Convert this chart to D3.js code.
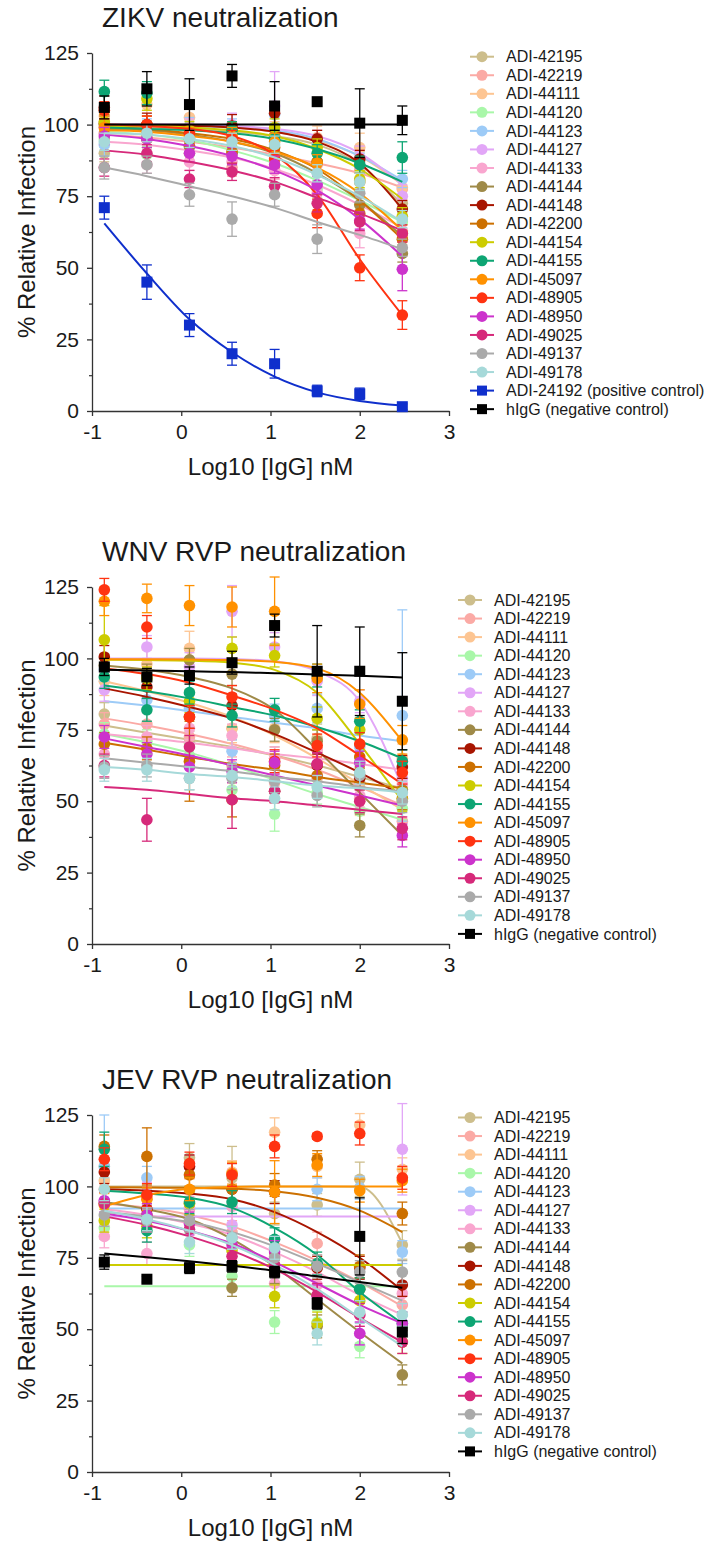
<!DOCTYPE html>
<html>
<head>
<meta charset="utf-8">
<script src="https://cdn.jsdelivr.net/npm/d3@7"></script>
<style>
  body { margin: 0; background: #fff; }
  text { font-family: "Liberation Sans", Arial, sans-serif; fill: #1a1a1a; }
</style>
</head>
<body>
<div id="chart"></div>
<script>
// x positions: log10 of the IgG concentration (3-fold dilutions from 300 nM)
const concLog = [-0.862, -0.385, 0.092, 0.569, 1.046, 1.523, 2.0, 2.477];

const abNames = ["ADI-42195", "ADI-42219", "ADI-44111", "ADI-44120", "ADI-44123", "ADI-44127",
  "ADI-44133", "ADI-44144", "ADI-44148", "ADI-42200", "ADI-44154", "ADI-44155", "ADI-45097",
  "ADI-48905", "ADI-48950", "ADI-49025", "ADI-49137", "ADI-49178"];
const abColors = ["#cdbe8c", "#fbaaa5", "#fdc592", "#a9f7a9", "#9dcbf7", "#e2a6f7",
  "#f9a6cf", "#9f8a48", "#a81500", "#cc7000", "#cccc00", "#0da573", "#ff9100",
  "#ff3311", "#cc33cc", "#d6297a", "#aaaaaa", "#a6d9d9"];
const posName = "ADI-24192 (positive control)";
const posColor = "#0f2fcc";
const negName = "hIgG (negative control)";
const negColor = "#000000";

// ---- ZIKV: 18 antibodies, then positive control, then hIgG
const zikvPoints = [
  [90, 95, 90, 96.5, 96, 93, 87.5, 72.5],
  [97, 96, 95, 85, 84, 86, 84, 77.5],
  [103, 107, 102.5, 96, 96, 95.5, 92, 78],
  [95, 89.5, 92, 92, 89.5, 77.5, 80.5, 66],
  [93, 99, 99.5, 99, 103.5, 93, 86, 81],
  [99, 98, 99, 100, 106.5, 95, 88.5, 75],
  [97, 86, 87, 87, 84, 76, 62, 63],
  [100, 95, 92.5, 90, 96, 87, 72, 55],
  [106, 100, 97, 99.5, 104, 95, 88, 70.5],
  [100.5, 100, 92.5, 90.5, 92, 87, 69, 60],
  [101, 109, 98, 98, 99, 92, 81, 68],
  [111.5, 111, 95, 98, 95, 90, 86, 88.5],
  [99, 97, 96, 96, 94, 86.5, 80, 62],
  [105, 100, 97, 95, 88, 69, 50, 33.5],
  [96, 95, 90, 89, 86, 79, 66.5, 49.5],
  [85, 90, 81, 83.5, 78.5, 72.5, 66, 62],
  [85, 86, 75.5, 67, 75.5, 60, 76, 57],
  [94, 97, 95, 94, 93, 83, 80, 67],
  [71, 45, 30, 20, 16.5, 7, 6, 1.5],
  [106, 112.5, 107, 117, 106.5, 108, 100.5, 101.5]
];
const zikvFit = [
  [99.5, 99, 98.5, 97.5, 96, 93, 86, 72],
  [96.5, 95.5, 94, 92, 89.5, 86.5, 83, 78],
  [100, 100, 99.5, 99, 97.5, 94.5, 89, 79],
  [97.5, 96.5, 94.5, 91, 86.5, 80.5, 73.5, 66],
  [100, 100, 99.5, 99, 98, 95, 89, 80.5],
  [100, 100, 100, 99.5, 98.5, 96, 90, 79],
  [94, 93, 91, 88.5, 84.5, 79, 72, 64],
  [98.5, 98, 96.5, 94, 90, 83, 73.5, 61],
  [99.5, 99.5, 99.5, 99, 97.5, 94, 86.5, 70.5],
  [99, 98.5, 97, 95, 91, 84.5, 73.5, 60],
  [99.5, 99.5, 99, 98, 96, 91.5, 84.5, 74],
  [99, 98.5, 98, 97, 95, 91.5, 86.5, 80],
  [98, 97.5, 96, 94, 90.5, 85, 76, 63],
  [100, 99.5, 98.5, 96, 89.5, 75.5, 53, 33.5],
  [96.5, 95, 92.5, 89, 84, 77, 67, 54],
  [91, 89.5, 87, 84, 80, 74.5, 69, 63],
  [85, 82, 78.5, 75, 71, 66, 61.5, 56.5],
  [97, 96.5, 95, 92.5, 88.5, 82.5, 75, 66],
  [65.5, 48, 32, 20.5, 12, 6.5, 3.5, 1.9],
  [100, 100, 100, 100, 100, 100, 100, 100]
];
const zikvErr = [
  [3, 3, 3, 4, 4, 3, 3, 3],
  [4, 4, 3, 3, 3, 4, 4, 4],
  [4, 4, 3, 5, 5, 4, 5, 4],
  [3, 3, 3, 3, 3, 3, 3, 3],
  [4, 3, 3, 3, 3, 3, 4, 3],
  [4, 3, 3, 4, 12, 3, 4, 4],
  [4, 3, 3, 3, 3, 3, 5, 4],
  [3, 3, 3, 4, 3, 3, 3, 3],
  [4, 4, 3, 4, 4, 3, 3, 3],
  [3, 3, 3, 4, 3, 3, 3, 3],
  [3, 4, 3, 3, 3, 3, 3, 3],
  [4, 4, 3, 3, 3, 3, 3, 5.5],
  [4, 3, 3, 3, 3, 3, 3, 3],
  [3, 3, 3, 3, 3, 5, 4.5, 5],
  [3, 3, 3, 3, 3, 3, 3, 7.5],
  [3, 3, 3, 3, 3, 3, 3, 3],
  [4, 3, 4, 6, 4, 5, 3, 3],
  [3, 3, 3, 3, 3, 3, 3, 3],
  [4, 6, 4, 4, 5, 2, 2, 1],
  [4, 6, 9, 4, 8.5, 0, 12, 5]
];

// ---- WNV RVP: 18 antibodies, then hIgG
const wnvPoints = [
  [80.5, 93, 70.5, 75.5, 65, 72, 56.5, 54],
  [77, 77, 72.5, 62.5, 56.5, 58, 51, 43],
  [92, 98, 103.5, 75.5, 75.5, 68, 50, 65],
  [73.5, 71, 66, 54, 45.5, 53, 46.5, 47.5],
  [96, 85.5, 82.5, 67.5, 80, 82.5, 69, 80],
  [89, 104, 97, 116.5, 104, 92, 85, 58],
  [66.5, 72.5, 75.5, 73, 65, 68, 52, 56],
  [97.5, 94, 99.5, 94.5, 75, 71, 41.5, 54],
  [100.5, 90, 79.5, 83.5, 53.5, 62.5, 58, 62],
  [70, 68.5, 64, 50.5, 62.5, 59, 65.5, 51],
  [106.5, 93, 85, 103.5, 101, 79, 75, 50.5],
  [93.5, 82, 88, 80, 82, 94, 78, 64],
  [120, 121, 118.5, 118, 116.5, 93, 84, 71.5],
  [124, 111, 79.5, 86.5, 64, 69.5, 70, 60],
  [72.5, 66.5, 62, 60.5, 63.5, 63, 63.5, 38],
  [62.5, 43.5, 69, 50.5, 53.5, 63, 50, 40.5],
  [62, 62.5, 58, 58, 57, 52, 59, 50],
  [61, 61, 58, 59, 51, 55, 60, 53],
  [97, 93.5, 94, 98.5, 111.5, 95.5, 95.5, 85]
];
const wnvFit = [
  [76.5, 74, 71.5, 69, 66, 62.5, 58.5, 54.5],
  [79, 76.5, 73.5, 70, 66, 61, 55, 48.5],
  [92, 88.5, 84.5, 79.5, 73, 65, 56, 47],
  [73.5, 70.5, 67, 62.5, 57.5, 52.5, 48, 43.5],
  [85, 83.5, 81.5, 79.5, 77.5, 75.5, 73, 71],
  [100, 100, 100, 99.8, 99, 95.5, 85, 55],
  [73.5, 72, 70.5, 68.5, 66.5, 65, 63, 61],
  [97.5, 96, 93.5, 89.5, 82, 68, 53, 38],
  [89.5, 86.5, 83, 79, 73.5, 67, 60, 52],
  [70.5, 68, 65.5, 63, 61, 58.5, 56.5, 54.5],
  [99.5, 99.4, 99.2, 98.5, 96, 88, 70, 50],
  [90.5, 88.5, 86, 83, 80, 76, 71, 65],
  [99.7, 99.7, 99.6, 99.4, 98.8, 96.5, 88, 71],
  [96.5, 94.5, 91.5, 87, 82, 75.5, 66, 56],
  [72, 69, 66, 62.5, 59, 55.5, 52, 48.5],
  [55, 54, 52.5, 51, 50, 48.5, 47, 45.5],
  [65, 63.5, 62, 60.5, 58.5, 57, 55, 53.5],
  [62, 61, 59.5, 58.5, 57, 55.5, 54.5, 53],
  [96, 95.8, 95.5, 95.2, 94.8, 94.4, 93.9, 93.3]
];
const wnvErr = [
  [4, 4, 4, 4, 4, 5, 4, 4],
  [4, 4, 3, 3, 3, 4, 4, 4],
  [5, 5, 6, 5, 5, 5, 5, 5],
  [4, 4, 4, 4, 6, 4, 4, 4],
  [4, 4, 12, 4, 4, 5, 5, 37],
  [4, 4, 5, 9, 5, 5, 4, 4],
  [4, 4, 4, 4, 4, 4, 4, 4],
  [4, 4, 4, 4, 4, 4, 4, 4],
  [4, 4, 4, 4, 4, 4, 4, 4],
  [4, 4, 14, 6, 4, 4, 4, 4],
  [12, 4, 4, 4, 4, 4, 4, 4],
  [4, 4, 4, 4, 4, 4, 4, 4],
  [5, 5, 7, 7, 12, 5, 5, 5],
  [4, 4, 4, 4, 4, 4, 4, 4],
  [4, 4, 4, 4, 4, 4, 4, 4],
  [4, 7.5, 4, 10, 4, 4, 4, 4],
  [4, 4, 4, 4, 4, 4, 4, 4],
  [4, 4, 4, 4, 4, 4, 4, 4],
  [3, 3, 3, 4, 4, 16, 15.5, 17]
];

// ---- JEV RVP: 18 antibodies, then hIgG (null = no fitted curve)
const jevPoints = [
  [107, 89.5, 110, 103, 90.5, 93.5, 102.5, 79.5],
  [99, 96, 92, 84, 75.5, 80, 64, 58.5],
  [102, 95.5, 98.5, 105, 119, 107, 121.5, 106],
  [85.5, 88, 79.5, 68.5, 52.5, 52.5, 44, 50.5],
  [107, 103, 89, 104, 98, 99, 99.5, 77],
  [95, 97.5, 107, 86.5, 78.5, 61.5, 48.5, 113],
  [82.5, 76.5, 92.5, 93, 66, 65.5, 55, 62.5],
  [94, 90, 94, 64.5, 70, 51, 64, 34],
  [105, 92, 107, 99, 98, 71.5, 71.5, 65.5],
  [114, 110.5, 104, 99, 100.5, 109.5, 72, 90.5],
  [88, 86, 94, 77.5, 61.5, 52, 60, 45.5],
  [113, 84.5, 94.5, 94.5, 81.5, 73, 64, 52],
  [93.5, 95.5, 99, 104.5, 98, 107.5, 98.5, 102],
  [109.5, 97, 108, 104, 114, 117.5, 118.5, 103],
  [95, 90, 87, 79.5, 77, 61.5, 48.5, 52],
  [94, 88, 85, 75.5, 72.5, 62, 55, 45.5],
  [90, 88, 88, 82, 75, 72, 70, 70],
  [99, 88.5, 80.5, 82, 78.5, 48.5, 56, 55],
  [73.5, 67.5, 71.5, 72, 70, 59, 82.5, 49]
];
const jevFit = [
  [100, 100, 100, 100, 100, 100, 99.9, 80],
  [94, 92.5, 90, 86, 80.5, 74, 66.5, 58],
  null,
  [65, 65, 65, 65, 65, 65, 65, 65],
  [92.3, 92.3, 92.3, 92.3, 92.3, 92.3, 92.3, 92.3],
  [89.5, 89.5, 89.5, 89.5, 89.5, 89.5, 89.5, 89.5],
  [92, 90, 87, 83, 77, 70, 62, 55],
  [94.5, 92, 88.5, 81.5, 72, 60.5, 49, 38],
  [99, 98.5, 97.5, 95.5, 91, 84, 75, 63.5],
  [99.7, 99.6, 99.5, 99.2, 98.3, 96, 91.5, 84],
  [72.5, 72.5, 72.5, 72.5, 72.5, 72.5, 72.5, 72.5],
  [98.5, 97.5, 96, 92.5, 85.5, 76, 63, 52],
  [93, 97, 99.2, 99.8, 100, 100, 100, 100],
  null,
  [90.5, 88, 84.5, 80, 73.5, 66, 58.5, 52],
  [89.5, 86.5, 82.5, 77.5, 71, 63, 54, 45.5],
  [91, 89.5, 87.5, 84, 79, 73, 66.5, 60],
  [91.5, 88.5, 84.5, 79.5, 72.5, 64, 54, 44],
  [76.5, 75.2, 73.8, 72.2, 70.5, 68.5, 66.5, 64.5]
];
const jevErr = [
  [5, 4, 5, 11, 4, 4, 6, 5],
  [4, 4, 4, 4, 4, 4, 4, 4],
  [4, 4, 4, 4, 5, 4, 4, 4],
  [4, 4, 4, 4, 4, 4, 4, 4],
  [18, 4, 4, 4, 4, 4, 4, 4],
  [4, 4, 4, 4, 4, 4, 4, 16],
  [4, 4, 4, 13, 4, 4, 4, 4],
  [4, 4, 4, 3, 4, 4, 4, 3.5],
  [4, 4, 4, 4, 4, 4, 4, 4],
  [4, 10, 4, 4, 4, 3, 4, 4],
  [4, 4, 4, 4, 4, 4, 4, 4],
  [6, 4, 4, 4, 4, 4, 4, 4],
  [4, 4, 4, 4, 11, 4, 4, 4],
  [4, 4, 4, 4, 4, 1, 4, 4],
  [4, 4, 4, 4, 4, 4, 4, 4],
  [4, 4, 4, 4, 4, 4, 4, 4],
  [4, 4, 4, 4, 4, 4, 4, 4],
  [4, 4, 4, 4, 4, 4, 4, 4],
  [2.5, 1, 2, 2, 2, 2, 13.5, 4]
];

const yTicks = [0, 25, 50, 75, 100, 125];
const yMinorTicks = [12.5, 37.5, 62.5, 87.5, 112.5];
const xTicks = [-1, 0, 1, 2, 3];

// Build the panel list
const panels = [
  { title: "ZIKV neutralization", top: 53, bottom: 411, legendX: 482, legendY: 56.7,
    points: zikvPoints, fit: zikvFit, err: zikvErr,
    names: abNames.concat([posName, negName]), colors: abColors.concat([posColor, negColor]) },
  { title: "WNV RVP neutralization", top: 587, bottom: 944, legendX: 470, legendY: 600,
    points: wnvPoints, fit: wnvFit, err: wnvErr,
    names: abNames.concat([negName]), colors: abColors.concat([negColor]) },
  { title: "JEV RVP neutralization", top: 1115, bottom: 1472, legendX: 470, legendY: 1117.5,
    points: jevPoints, fit: jevFit, err: jevErr,
    names: abNames.concat([negName]), colors: abColors.concat([negColor]) }
];

const svg = d3.select("#chart").append("svg")
  .attr("width", 710).attr("height", 1544);

const x = d3.scaleLinear().domain([-1, 3]).range([92, 449]);
const isSquare = name => name === posName || name === negName;

panels.forEach(p => {
  const y = d3.scaleLinear().domain([0, 125]).range([p.bottom, p.top]);
  const g = svg.append("g");

  // title
  g.append("text")
    .attr("x", 102).attr("y", p.top - 26)
    .style("font-size", "28px")
    .text(p.title);

  // minor y ticks
  g.append("g")
    .attr("transform", `translate(${x(-1)},0)`)
    .call(d3.axisLeft(y).tickValues(yMinorTicks).tickSize(3).tickFormat(""))
    .call(a => a.select(".domain").remove())
    .call(a => a.selectAll("line").attr("stroke", "#333").attr("stroke-width", 1.2));

  // y axis
  g.append("g")
    .attr("transform", `translate(${x(-1)},0)`)
    .call(d3.axisLeft(y).tickValues(yTicks).tickSize(5).tickSizeOuter(0).tickPadding(8))
    .call(a => a.select(".domain").attr("stroke", "#333").attr("stroke-width", 1.3))
    .call(a => a.selectAll("line").attr("stroke", "#333").attr("stroke-width", 1.3))
    .call(a => a.selectAll("text").style("font-size", "21px").attr("fill", "#1a1a1a")
      .attr("font-family", null));

  // x axis
  g.append("g")
    .attr("transform", `translate(0,${y(0)})`)
    .call(d3.axisBottom(x).tickValues(xTicks).tickSize(5).tickSizeOuter(0).tickPadding(8)
      .tickFormat(d => String(d)))
    .call(a => a.select(".domain").attr("stroke", "#333").attr("stroke-width", 1.3))
    .call(a => a.selectAll("line").attr("stroke", "#333").attr("stroke-width", 1.3))
    .call(a => a.selectAll("text").style("font-size", "21px").attr("fill", "#1a1a1a")
      .attr("font-family", null));

  // axis titles
  g.append("text")
    .attr("x", (x(-1) + x(3)) / 2).attr("y", y(0) + 64)
    .attr("text-anchor", "middle")
    .style("font-size", "24px")
    .text("Log10 [IgG] nM");

  g.append("text")
    .attr("transform", `translate(35,${(p.top + p.bottom) / 2}) rotate(-90)`)
    .attr("text-anchor", "middle")
    .style("font-size", "24px")
    .text("% Relative Infection");

  // series: fitted curve, error bars, markers
  const line = d3.line()
    .x((d, i) => x(concLog[i]))
    .y(d => y(d))
    .curve(d3.curveMonotoneX);

  p.points.forEach((vals, s) => {
    const col = p.colors[s];
    const sg = g.append("g");
    if (p.fit[s]) {
      sg.append("path")
        .attr("d", line(p.fit[s]))
        .attr("fill", "none")
        .attr("stroke", col)
        .attr("stroke-width", 2);
    }
    const errs = p.err[s];
    const eb = sg.selectAll(".eb").data(vals.map((v, i) => ({ v, e: errs[i], i })).filter(d => d.e > 0))
      .enter().append("g").attr("stroke", col).attr("stroke-width", 1.3);
    eb.append("line")
      .attr("x1", d => x(concLog[d.i])).attr("x2", d => x(concLog[d.i]))
      .attr("y1", d => y(d.v - d.e)).attr("y2", d => y(d.v + d.e));
    eb.append("line")
      .attr("x1", d => x(concLog[d.i]) - 5).attr("x2", d => x(concLog[d.i]) + 5)
      .attr("y1", d => y(d.v + d.e)).attr("y2", d => y(d.v + d.e));
    eb.append("line")
      .attr("x1", d => x(concLog[d.i]) - 5).attr("x2", d => x(concLog[d.i]) + 5)
      .attr("y1", d => y(d.v - d.e)).attr("y2", d => y(d.v - d.e));

    if (isSquare(p.names[s])) {
      sg.selectAll(".pt").data(vals).enter().append("rect")
        .attr("x", (d, i) => x(concLog[i]) - 5.5)
        .attr("y", d => y(d) - 5.5)
        .attr("width", 11).attr("height", 11)
        .attr("fill", col);
    } else {
      sg.selectAll(".pt").data(vals).enter().append("circle")
        .attr("cx", (d, i) => x(concLog[i]))
        .attr("cy", d => y(d))
        .attr("r", 5.8)
        .attr("fill", col);
    }
  });

  // legend
  const leg = g.append("g");
  p.names.forEach((name, s) => {
    const ly = p.legendY + s * 18.55;
    const col = p.colors[s];
    leg.append("line")
      .attr("x1", p.legendX - 12).attr("x2", p.legendX + 12)
      .attr("y1", ly).attr("y2", ly)
      .attr("stroke", col).attr("stroke-width", 2);
    if (isSquare(name)) {
      leg.append("rect")
        .attr("x", p.legendX - 5).attr("y", ly - 5)
        .attr("width", 10).attr("height", 10)
        .attr("fill", col);
    } else {
      leg.append("circle")
        .attr("cx", p.legendX).attr("cy", ly).attr("r", 5.5)
        .attr("fill", col);
    }
    leg.append("text")
      .attr("x", p.legendX + 24).attr("y", ly + 5.6)
      .style("font-size", "16px")
      .text(name);
  });
});
</script>
</body>
</html>
